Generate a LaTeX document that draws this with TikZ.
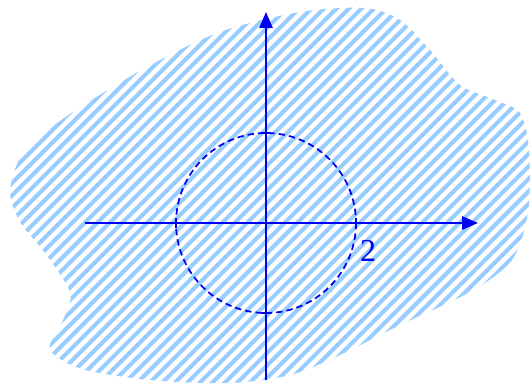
\documentclass[tikz,border=0pt]{standalone}
\usepackage{fontspec}
\setmainfont{Liberation Serif}
\usetikzlibrary{arrows.meta}
\definecolor{hatchblue}{RGB}{153,204,255}
\definecolor{axisblue}{RGB}{0,0,245}
\tikzset{
  axisline/.style={draw=axisblue, line width=1.3pt, -{Triangle[length=12pt,width=10pt]}},
  circline/.style={draw=axisblue, line width=1.3pt, dash pattern=on 4.8pt off 3pt},
  tickline/.style={draw=axisblue, line width=1.3pt},
  hatchline/.style={draw=hatchblue, line width=3pt},
  lbl/.style={text=axisblue, font=\fontsize{24}{28}\selectfont, inner sep=0pt}
}
\begin{document}
\begin{tikzpicture}[x=0.75pt,y=-0.75pt]
\useasboundingbox (0,0) rectangle (530,385);
% hatched region
\begin{scope}
\clip plot[smooth cycle, tension=0.5] coordinates {
 (10,190) (25,150) (70,114) (147,67) (220,32) (300,12) (365,8) (400,20)
 (430,50) (460,85) (495,100) (520,113) (529,150) (528,212) (512,260)
 (470,292) (400,325) (340,355) (290,375) (230,383) (150,380) (82,369)
 (50,349) (64,318) (70,292) (45,253) (20,222)};
\foreach \c in {-450,-437.5,...,560} {
  \draw[hatchline] (\c,420) -- (\c+440,-20);
}
\end{scope}
% axes
\coordinate (O) at (266,223);
\coordinate (xs) at (85,223);
\coordinate (xe) at (478,223);
\coordinate (ys) at (266,380);
\coordinate (ye) at (266,12);
\draw[axisline] (xs) -- (xe);
\draw[axisline] (ys) -- (ye);
% dashed circle
\draw[circline] (O) circle[radius=90];
% ticks
\coordinate (t1) at (356,223);
\coordinate (t2) at (176,223);
\coordinate (t3) at (266,133);
\coordinate (t4) at (266,313);
\draw[tickline] ([yshift=-4]t1) -- ([yshift=4]t1);
\draw[tickline] ([yshift=-4]t2) -- ([yshift=4]t2);
\draw[tickline] ([xshift=-4]t3) -- ([xshift=4]t3);
\draw[tickline] ([xshift=-4]t4) -- ([xshift=4]t4);
\node[lbl] (two) at (368,251) {2};
\end{tikzpicture}
\end{document}
